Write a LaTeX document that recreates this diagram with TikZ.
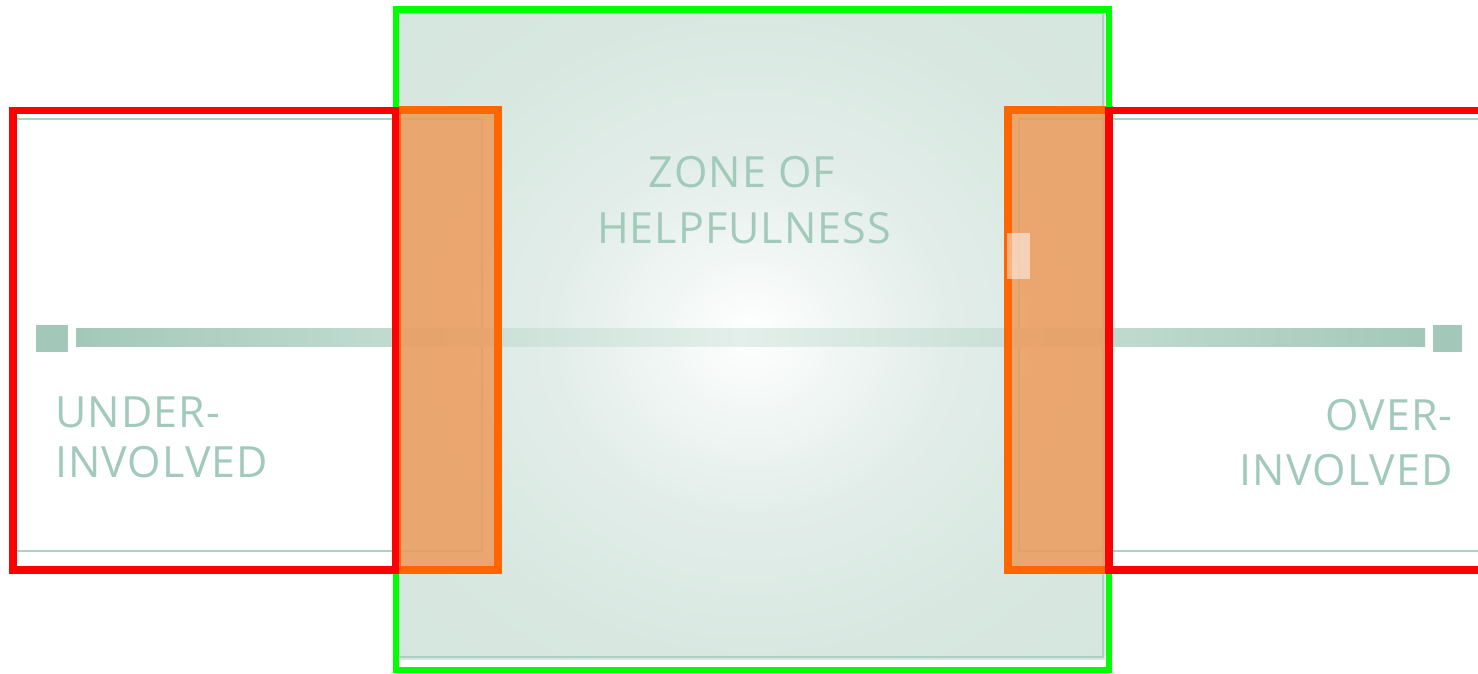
\documentclass[tikz,border=0pt]{standalone}
\usepackage{fontspec}
\setmainfont{Open Sans}
\newfontfamily\lblfont{Open Sans}[LetterSpace=2.5]
\definecolor{tealtxt}{HTML}{A2CABB}
\definecolor{tealbar}{HTML}{A3C8BA}
\definecolor{tealbarlight}{HTML}{E3EFEA}
\definecolor{tealline}{HTML}{AFCFC4}
\definecolor{panelmid}{HTML}{E2EDE9}
\definecolor{paneledge}{HTML}{D8E8E1}
\definecolor{panelcorner}{HTML}{D2E4DC}
\definecolor{orangefill}{HTML}{EF9653}
\definecolor{orangeline}{HTML}{FF6600}
\definecolor{redline}{HTML}{FF0000}
\definecolor{greenline}{HTML}{00FF00}
\pgfdeclareradialshading{panelshade}{\pgfpoint{0bp}{0bp}}{%
  color(0bp)=(white); color(6bp)=(white!55!panelmid); color(14bp)=(panelmid);
  color(25bp)=(paneledge); color(50bp)=(panelcorner)}
\tikzset{
  lbl/.style={font=\lblfont\fontsize{43}{50}\selectfont, text=tealtxt, inner sep=0pt},
  redbox/.style={draw=redline, line width=7.5pt},
  greenbox/.style={draw=greenline, line width=6.5pt},
  orangebox/.style={draw=orangeline, line width=8pt, fill=orangefill, fill opacity=0.8},
  thinline/.style={draw=tealline, line width=2pt},
  endsq/.style={fill=tealbar},
}
\begin{document}
\begin{tikzpicture}[x=1pt,y=-1pt]
\clip (0,0) rectangle (1478,674);
\fill[white] (0,0) rectangle (1478,674);
% panel
\shade[shading=panelshade] (397,10) rectangle (1105,659);
\draw[tealline, line width=2pt] (1103,10) -- (1103,657) -- (399,657);
% thin frame lines
\draw[thinline] (17,119) -- (398,119);
\draw[thinline] (17,551) -- (398,551);
\draw[thinline] (1104,119) -- (1478,119);
\draw[thinline] (1104,551) -- (1478,551);
\draw[thinline] (398,119) rectangle (482,551);
\draw[thinline] (1019,119) rectangle (1103,551);
% bar
\shade[left color=tealbar, right color=tealbarlight] (76,328) rectangle (740,346);
\shade[left color=tealbarlight, right color=tealbar] (740,328) rectangle (1425,346);
\fill[endsq] (36,325) rectangle (68,352);
\fill[endsq] (1433,325) rectangle (1462,352);
% texts
\node[lbl, anchor=base] (z1) at (742,187) {ZONE OF};
\node[lbl, anchor=base] (z2) at (744,243) {HELPFULNESS};
\node[lbl, anchor=base west] (u1) at (55,427) {UNDER-};
\node[lbl, anchor=base west] (u2) at (55,477) {INVOLVED};
\node[lbl, anchor=base east] (o1) at (1453,430) {OVER-};
\node[lbl, anchor=base east] (o2) at (1453,485) {INVOLVED};
% orange boxes
\path[orangebox] (397,110.5) rectangle (497.5,570);
\path[orangebox] (1007.5,110.5) rectangle (1109,570);
\fill[white, opacity=0.5] (1007,233) rectangle (1030,279);
% green box
\draw[greenbox] (396,9.5) rectangle (1109,670);
% red boxes
\draw[redbox] (13,110.5) rectangle (395.5,570);
\draw[redbox] (1109,110.5) rectangle (1500,570);
\end{tikzpicture}
\end{document}
